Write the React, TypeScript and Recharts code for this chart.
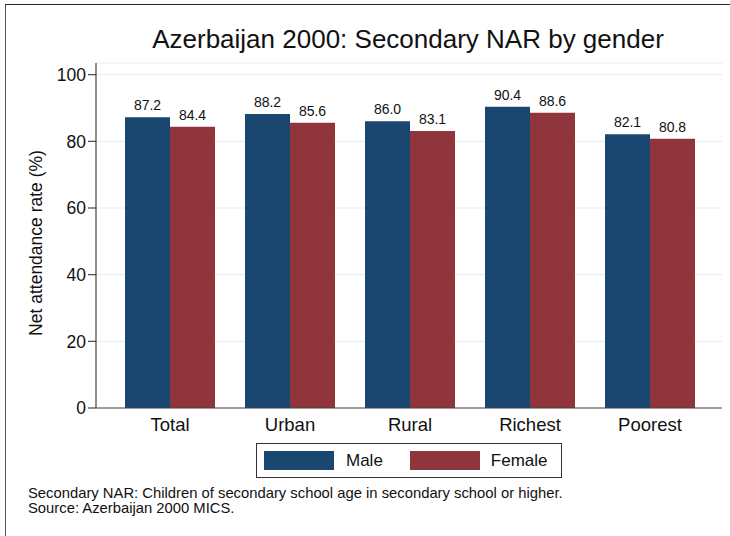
import { BarChart, Bar, XAxis, YAxis, CartesianGrid, LabelList } from "recharts";

const CATEGORIES = ["Total", "Urban", "Rural", "Richest", "Poorest"];
const MALE = [87.2, 88.2, 86.0, 90.4, 82.1];
const FEMALE = [84.4, 85.6, 83.1, 88.6, 80.8];
const Y_TICKS = [0, 20, 40, 60, 80, 100];

const MALE_COLOR = "#1a476f";
const FEMALE_COLOR = "#90353b";
const FONT = "Liberation Sans, Arial, Helvetica, sans-serif";

const data = CATEGORIES.map((name, i) => ({ name, male: MALE[i], female: FEMALE[i] }));

const fmt = (v: unknown) => Number(v).toFixed(1);

export default function App() {
  return (
    <div
      style={{
        position: "absolute",
        left: 0,
        top: 0,
        width: 730,
        height: 536,
        background: "#fff",
        fontFamily: FONT,
        overflow: "hidden",
      }}
    >
      {/* frame (top + left only visible) */}
      <div
        style={{
          position: "absolute",
          left: 5,
          top: 4,
          width: 730,
          height: 540,
          borderTop: "1.5px solid #222",
          borderLeft: "1.5px solid #555",
        }}
      />
      <div
        style={{
          position: "absolute",
          left: 94,
          width: 628,
          top: 24,
          textAlign: "center",
          fontSize: 26,
          lineHeight: "30px",
          color: "#111",
        }}
      >
        Azerbaijan 2000: Secondary NAR by gender
      </div>
      <div
        style={{
          position: "absolute",
          left: 36,
          top: 243,
          transform: "translate(-50%, -50%) rotate(-90deg)",
          whiteSpace: "nowrap",
          fontSize: 17.5,
          color: "#111",
        }}
      >
        Net attendance rate (%)
      </div>

      <div style={{ position: "absolute", left: 0, top: 0 }}>
        <BarChart
          width={730}
          height={536}
          data={data}
          margin={{ top: 63, right: 8, left: 34, bottom: 98 }}
          barCategoryGap="12.5%"
          barGap={0}
        >
          <CartesianGrid vertical={false} stroke="#e6eef1" strokeWidth={1.2} />
          <XAxis
            dataKey="name"
            height={30}
            tickLine={false}
            tickSize={0}
            tickMargin={10}
            padding={{ left: 14, right: 12 }}
            axisLine={{ stroke: "#444", strokeWidth: 1.2 }}
            tick={{ fontSize: 18.5, fill: "#111", fontFamily: FONT }}
          />
          <YAxis
            width={62}
            domain={[0, 103.5]}
            ticks={Y_TICKS}
            interval={0}
            tickSize={8}
            tickMargin={2}
            axisLine={{ stroke: "#444", strokeWidth: 1.2 }}
            tickLine={{ stroke: "#444", strokeWidth: 1.2 }}
            tick={{ fontSize: 17.5, fill: "#111", fontFamily: FONT }}
          />
          <Bar dataKey="male" fill={MALE_COLOR} isAnimationActive={false}>
            <LabelList
              dataKey="male"
              position="top"
              offset={7}
              formatter={fmt}
              style={{ fontSize: 14, fill: "#111", fontFamily: FONT }}
            />
          </Bar>
          <Bar dataKey="female" fill={FEMALE_COLOR} isAnimationActive={false}>
            <LabelList
              dataKey="female"
              position="top"
              offset={7}
              formatter={fmt}
              style={{ fontSize: 14, fill: "#111", fontFamily: FONT }}
            />
          </Bar>
        </BarChart>
      </div>

      {/* legend */}
      <div
        style={{
          position: "absolute",
          left: 256,
          top: 443,
          width: 304,
          height: 33,
          border: "1.2px solid #333",
          display: "flex",
          alignItems: "center",
          fontSize: 17,
          color: "#111",
        }}
      >
        <span style={{ marginLeft: 7, width: 70, height: 19, background: MALE_COLOR }} />
        <span style={{ marginLeft: 12 }}>Male</span>
        <span style={{ marginLeft: 27, width: 70, height: 19, background: FEMALE_COLOR }} />
        <span style={{ marginLeft: 11 }}>Female</span>
      </div>

      <div
        style={{
          position: "absolute",
          left: 28,
          top: 486,
          fontSize: 14.8,
          lineHeight: "15px",
          color: "#111",
        }}
      >
        Secondary NAR: Children of secondary school age in secondary school or higher.
        <br />
        Source: Azerbaijan 2000 MICS.
      </div>
    </div>
  );
}
